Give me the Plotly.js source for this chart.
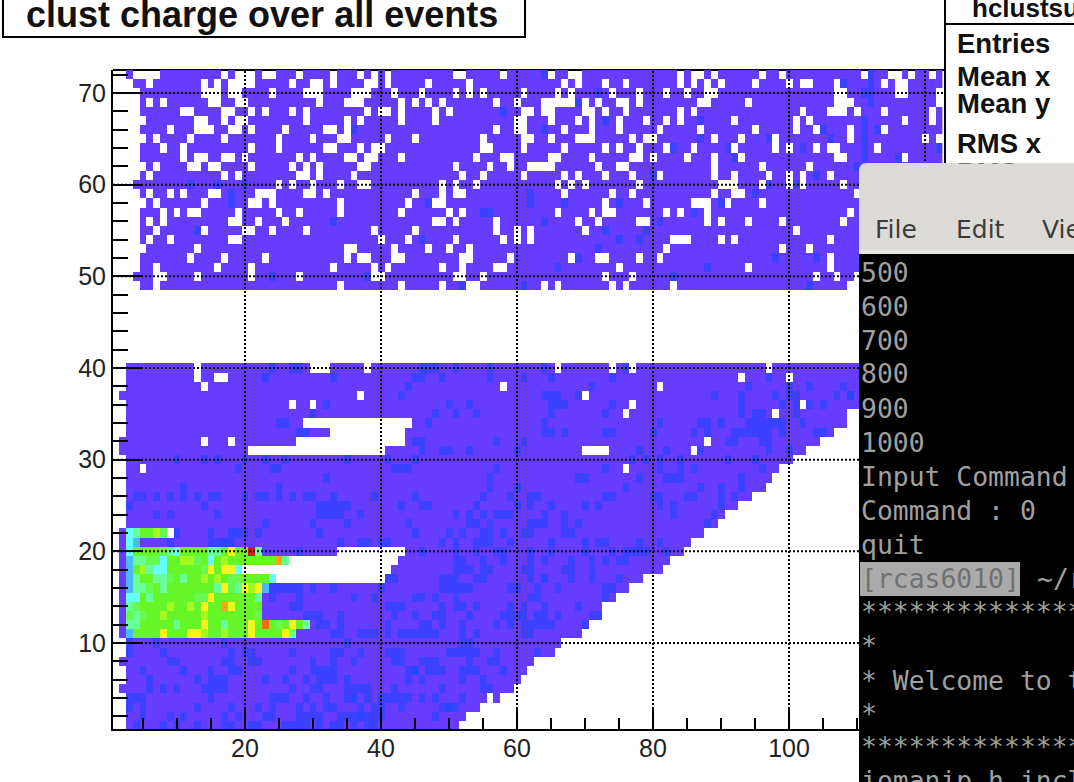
<!DOCTYPE html>
<html><head><meta charset="utf-8">
<script src="https://cdn.plot.ly/plotly-3.0.1.min.js"></script>
<style>html,body{margin:0;padding:0;background:#fff;overflow:hidden}</style>
</head><body><div id="chart" style="width:1074px;height:782px"></div>
<script>
// ---------- values ----------
const titleText = "clust charge over all events";
const xTickValues = [20,40,60,80,100];
const yTickStep = 10;
// [y, first occupied x bin, last occupied x bin]
const rowSpans = [
[72,3,122],[71,4,122],[70,5,122],[69,5,122],[68,5,122],[67,6,122],[66,5,122],[65,6,122],
[64,5,122],[63,5,122],[62,6,122],[61,5,122],[60,4,122],[59,5,122],[58,6,122],[57,5,122],
[56,5,122],[55,5,122],[54,5,122],[53,6,122],[52,5,122],[51,5,122],[50,4,109],[49,5,108],
[40,3,122],[39,3,122],[38,3,122],[37,2,122],[36,3,110],[35,3,108],[34,3,108],[33,3,106],
[32,2,104],[31,2,102],[30,3,100],[29,3,98],[28,3,97],[27,3,96],[26,3,94],[25,3,92],
[24,3,90],[23,3,89],[22,2,87],[21,2,85],[20,2,84],[19,2,82],[18,2,81],[17,2,78],
[16,2,76],[15,2,74],[14,2,72],[13,2,72],[12,2,70],[11,2,69],[10,3,66],[9,3,65],
[8,2,62],[7,3,61],[6,3,60],[5,2,59],[4,3,57],[3,3,54],[2,3,52],[1,3,51]];
// [y, ...x bins with no entries] ; a pair is an inclusive run of bins
const emptyBins = [
[72,[4,7],17,19,20,21,[23,24],28,33,37,39,41,51,52,58,65,68,69,84,86,87,89,96,99,111,115,116,118,121],
[71,6,14,16,[18,21],27,30,31,33,38,39,41,47,53,67,69,73,76,84,86,88,90,95,100,102,103,107,114,116,117],
[70,[14,16],18,19,24,[29,31],[36,38],42,46,51,53,55,61,66,68,74,78,82,85,88,89,107,108,116,117,122],
[69,6,8,15,16,19,20,31,[35,37],43,45,47,49,57,60,64,[65,68],70,72,75,76,78,87,88,94,[107,109],122],
[68,11,12,17,18,21,23,27,29,38,40,41,43,48,50,61,62,64,65,70,71,73,76,84,86,102,[106,108],110,114,121],
[67,13,14,17,19,20,29,35,37,43,48,60,61,65,69,71,75,79,82,84,92,101,103,117,121],
[66,9,[13,15],18,19,21,26,32,33,35,57,60,61,67,71,75,81,87,95,101,104,109,114],
[65,7,12,17,25,30,34,35,41,45,55,61,62,65,[69,71],77,79,80,89,93,98,109,120,122],
[64,8,11,21,25,32,33,37,39,40,55,56,61,67,73,75,78,82,86,92,98,100,104,106,107,113],
[63,11,13,14,17,18,20,28,30,35,36,38,39,43,54,58,59,65,66,71,77,78,80,85,89,93,107,108,117],
[62,7,12,13,15,16,21,27,29,31,37,38,51,56,59,[62,65],72,75,76,89,96,103],
[61,6,17,19,28,29,31,36,52,55,61,67,69,73,77,81,89,92,97,100,102,106],
[60,25,27,30,34,37,38,49,51,54,66,68,70,78,[90,92],96,100,102,108],
[59,6,9,11,15,16,[22,24],29,30,32,45,49,51,52,67,74,77,89,92,93,110],
[58,7,14,21,22,24,34,44,48,49,73,79,[86,88],91,96],
[57,8,10,12,13,19,25,28,34,43,50,52,66,71,73,74,82,84,88,109],
[56,6,8,18,19,22,26,48,49,51,57,69,72,78,79,88,90,94,99,108],
[55,7,14,20,21,24,29,39,45,57,60,62,70,101],
[54,6,9,18,19,40,44,51,58,60,62,[83,85],90,92,106],
[53,13,35,36,42,47,50,53,82,99,103],
[52,12,17,23,35,37,38,42,43,52,53,59,68,72,73,78,81,106],
[51,7,16,21,33,39,41,49,52,57,58,75,94,106],
[50,7,8,13,21,28,39,40,51,52,55,73,77,104,107],
[49,7,34,43,49,53,54,64,66,74,76,83],
[40,13,[30,32],38,66,74,77,97],[39,13,16,17,93,100],[38,14,58,81],[37,37,70],
[36,27,30,77,102],[35,76,98],[34,[29,44]],[33,[33,43]],[32,14,18,[28,43],88],
[31,[21,40],[70,73],86],[29,5,76],[20,[34,43]],[19,[27,42]],[18,[20,41]],[17,[25,40]],[4,56]];
// [y, ...x bins drawn one palette step above the base level]
const blueBins = [
[72,64,112],[71,108,112],[70,72,111,112],[69,69,112],[68,58],[67,73,87,111],[66,36,64,105,111,113],
[65,87,97,106,111],[64,83,91,102,111,122],[63,92,111,116],[62,110],[61,80,104],[60,12,16,20,97,101],
[59,18,62,95],[58,18,47,62,67,75,90],[57,55,56,86],[56,33,64,81],[55,13,73,79],[54,46,75,78],
[53,72],[52,69,98,104],[51,66,88],[50,24,38,83],[49,52,61,103],
[40,24,27,28,[46,48],51,56,64,76],[39,23,33,45,46,49,56,61,65,74,97],[38,44,71,94,100,103,108],
[37,43,64,65,66,69,89,93,98,100,101,107,109],[36,32,50,53,65,66,67,74,93,99,101,103,105],
[35,30,48,51,54,65,73,93,95,96,101],[34,25,26,47,64,81,87,88,90,[94,99],102],
[33,28,29,64,65,67,73,74,80,86,88,[92,97],99,104,105],[32,45,46,57,61,91,92,96,97],
[31,46,49,50,53,60,78,82,87,97,100],[30,10,14,16,20,23,26,35,41,45,77,79,81,84,91,95],
[29,19,24,25,42,43,44,57,73,81,84,86,96],[28,32,56,69,70,78,82,83,84,93],[27,11,25,56,60,76,87,90,93],
[26,4,5,7,9,11,13,15,16,20,22,23,25,27,29,30,33,39,45,55,59,62,63,73,74,80,81,85,86,90,92],
[25,3,14,[31,35],43,46,47,54,60,62,65,70,72,81,83,90],[24,7,9,16,[31,34],37,51,53,55,[57,59],64,67,83,89],
[23,23,30,35,44,53,54,56,[62,64],67,69,88],[22,10,15,18,19,20,22,31,45,50,52,55,56,58,61,62,67,68],
[21,9,15,16,17,18,34,37,38,40,41,49,51,[54,56],59,65,70,72,73,78,81],
[20,28,46,51,54,57,58,62,65,70,74,76,77,78,79,82],[19,51,52,55,58,62,64,68,71,73,75,76],
[18,51,52,53,55,56,61,62,67,68,71],[17,41,42,49,50,51,54,55,62,64,68,71,75],
[16,[24,28],30,33,40,[49,53],59,60,63,66,73,74],[15,24,28,36,39,45,46,48,51,62,63,73],
[14,27,28,41,42,43,49,51,52,54,59,61,64,69],[13,29,30,31,34,42,45,48,49,53,[58,61],63,64,66,71,72],
[12,31,32,34,41,46,47,49,52,57,59,[61,65],70],[11,33,34,[37,39],41,[43,48],52,54,61,62],
[10,3,7,17,35,52,53],[9,3,8,18,20,21,27,33,34,37,[41,43],[50,54],57,63],
[8,9,10,17,18,21,22,30,33,36,42,43,[46,48],53,56,57],[7,5,11,15,18,19,27,[30,33],44,45,47,48,49,52,53,54,58],
[6,6,13,[15,17],23,26,29,[31,33],35,44,46,52,55],[5,6,8,10,[14,17],27,30,31,[35,38],42,49,55,56],
[4,3,4,5,15,[24,26],29,32,35,36,38,[40,44],46,48,52],[3,3,5,13,18,22,24,28,30,32,33,37,39,40,43,[49,51]],
[2,5,9,11,17,19,23,24,[28,31],[34,40],48],[1,4,8,10,13,17,18,21,22,[26,29],31,33,34,36,38,39]];
const deepBlueBins = [[21,17],[7,45],[17,64],[37,109],[4,36],[2,37],[3,50]];
// palette levels of the bright cluster, listed from x bin 3 upward (0 = no entries)
const hotRows = {
22:[5,6,8,8,9,7,0],
21:[5,4],
20:[5,8,8,8,8,7,6,5,8,8,8,8,6,6,8,10,8,8,13,6],
19:[4,6,6,7,7,5,8,8,9,9,7,8,5,8,9,8,8,8,8,8,8,8,11,6],
18:[4,8,9,6,5,5,8,8,8,8,8,7,10,8,10,10,5],
17:[4,6,8,8,6,6,7,8,6,8,8,9,8,9,8,7,7,8,8,8,8,5],
16:[4,6,6,7,8,6,8,8,8,8,8,8,8,6,10,7,6,10,9,10,4],
15:[5,5,8,6,8,8,8,8,8,8,7,7,10,8,8,8,8,8,8,6],
14:[6,7,8,8,8,8,9,8,8,9,8,10,8,8,11,10,8,8,8,8],
13:[7,6,7,8,8,9,8,8,8,8,8,9,8,8,8,8,8,8,8,7],
12:[6,6,8,8,8,8,8,6,8,8,8,10,8,8,6,8,8,8,10,8,12,8,7,8,10,8,6],
11:[4,8,8,8,8,10,8,8,8,10,10,9,8,8,9,8,8,8,10,8,8,8,8,10,6]};
const paletteColors = ["#663dff","#3c40ff","#2a45ff","#4db8ff","#66ffff","#66ff99","#66fa50",
                       "#66f526","#a2fa20","#f8f41e","#fba514","#f07010","#e81010"];
const statLabels = ["Entries","Mean x","Mean y","RMS x","RMS y"];
const terminalLines = ["500","600","700","800","900","1000","Input Command : 0"];
// ---------- build the histogram grid ----------
const NX = 122, NY = 72;
const xs = Array.from({length:NX},(_,i)=>i+1), ys = Array.from({length:NY},(_,i)=>i+1);
const z = ys.map(()=>xs.map(()=>null));
const setBin=(y,x,v)=>{ if(x>=1&&x<=NX) z[y-1][x-1]=v; };
rowSpans.forEach(([y,a,b])=>{ for(let x=a;x<=b;x++) setBin(y,x,1); });
const applyList=(list,v)=>list.forEach(([y,...bins])=>bins.forEach(e=>{
  if(Array.isArray(e)){ for(let x=e[0];x<=e[1];x++) setBin(y,x,v);} else setBin(y,e,v);
}));
applyList(emptyBins,null);
applyList(blueBins,2);
deepBlueBins.forEach(([y,x])=>setBin(y,x,3));
Object.keys(hotRows).forEach(y=>hotRows[y].forEach((v,i)=>setBin(+y,i+3,v===0?null:v)));
const n = paletteColors.length, colorscale=[];
paletteColors.forEach((c,i)=>{ colorscale.push([i/n,c]); colorscale.push([(i+1)/n,c]); });
// ---------- page geometry ----------
const L=113,R=945,T=70,B=729,W=1074,H=782;
const px=x=>(x-L)/(R-L), py=y=>1-(y-T)/(B-T);
const xRange=[20-(245-L)/6.8, 20+(R-245)/6.8];
const yRange=[70-(B-93)/9.167, 70+(93-T)/9.167];
const box=(x0,y0,x1,y1,fill,line,layer)=>({type:'rect',xref:'paper',yref:'paper',x0:px(x0),x1:px(x1),y0:py(y0),y1:py(y1),
  fillcolor:fill||'rgba(0,0,0,0)',line:line?{color:line,width:2}:{width:0},layer:layer||'above'});
const seg=(x0,y0,x1,y1,layer)=>({type:'line',xref:'paper',yref:'paper',x0:px(x0),x1:px(x1),y0:py(y0),y1:py(y1),
  line:{color:'#000',width:2},layer:layer||'above'});
const grid=[];
xTickValues.concat([120]).forEach(v=>grid.push({type:'line',xref:'x',yref:'paper',x0:v,x1:v,y0:0,y1:1,line:{color:'#000',width:2,dash:'2px,2px'},layer:'above'}));
for(let v=10;v<=70;v+=yTickStep) grid.push({type:'line',xref:'paper',yref:'y',x0:0,x1:1,y0:v,y1:v,line:{color:'#000',width:2,dash:'2px,2px'},layer:'above'});
const winPath=`M ${px(859)} ${py(254)} L ${px(859)} ${py(171)} Q ${px(859)} ${py(163)} ${px(867)} ${py(163)} L ${px(1074)} ${py(163)} L ${px(1074)} ${py(254)} Z`;
const shapes=[
  seg(L,T,R,T,'below'),
  ...grid,
  seg(R,0,R,163),
  seg(R,24,W,24),
  box(3,-4,525,37,'#fff','#000'),
  {type:'path',xref:'paper',yref:'paper',path:winPath,fillcolor:'#dcdbd7',line:{width:0},layer:'above'},
  box(859,250,W,254,'#e8e8e4'),
  box(859,254,W,H,'#000'),
  box(860,562,1020,596,'#aaaaaa')
];
const SANS="Liberation Sans, Arial, sans-serif", MONO="DejaVu Sans Mono, monospace";
const label=(text,x,y,size,color,family,bold)=>({xref:'paper',yref:'paper',x:px(x),y:py(y),xanchor:'left',yanchor:'middle',
  showarrow:false,borderpad:0,borderwidth:0,align:'left',text:bold?`<b>${text}</b>`:text,font:{size:size,color:color,family:family}});
const TERM='#a0a0a0';
const annotations=[
  label(titleText,26,14,36,'#111',SANS,true),
  label("hclustsum",972,8,26,'#111',SANS,true),
  label(statLabels[0],957,43,27.5,'#111',SANS,true),
  label(statLabels[1],957,76,27.5,'#111',SANS,true),
  label(statLabels[2],957,104,27.5,'#111',SANS,true),
  label(statLabels[3],957,143,27.5,'#111',SANS,true),
  label(statLabels[4],957,172,27.5,'#111',SANS,true),
  {xref:'paper',yref:'paper',x:px(870),y:py(163),xanchor:'left',yanchor:'top',showarrow:false,text:' ',width:204,height:28,bgcolor:'#dcdbd7',borderpad:0},
  label("File",875,230,25,'#3c3c3c',"DejaVu Sans, sans-serif"),
  label("Edit",956,230,25,'#3c3c3c',"DejaVu Sans, sans-serif"),
  label("View",1042,230,25,'#3c3c3c',"DejaVu Sans, sans-serif"),
  label(terminalLines[0],861,272,26.4,TERM,MONO),
  label(terminalLines[1],861,306,26.4,TERM,MONO),
  label(terminalLines[2],861,340,26.4,TERM,MONO),
  label(terminalLines[3],861,374,26.4,TERM,MONO),
  label(terminalLines[4],861,408,26.4,TERM,MONO),
  label(terminalLines[5],861,442,26.4,TERM,MONO),
  label(terminalLines[6],861,476,26.4,TERM,MONO),
  label("Command : 0",861,510,26.4,TERM,MONO),
  label("quit",861,544,26.4,TERM,MONO),
  label("[rcas6010]",861,578,26.4,'#707070',MONO),
  label("~/r",1037,578,26.4,TERM,MONO),
  label("***************",861,611,26.4,TERM,MONO),
  label("*",861,645,26.4,TERM,MONO),
  label("* Welcome to the",861,680,26.4,TERM,MONO),
  label("*",861,713,26.4,TERM,MONO),
  label("***************",861,746,26.4,TERM,MONO),
  label("iomanip.h incl",861,780,26.4,TERM,MONO)
];
const axisFont={family:SANS,size:25,color:'#222'};
const layout={
  width:W,height:H,margin:{l:L,r:W-R,t:T,b:H-B,pad:0},
  paper_bgcolor:'#fff',plot_bgcolor:'rgba(0,0,0,0)',showlegend:false,
  xaxis:{range:xRange,tickmode:'array',tickvals:xTickValues,ticktext:xTickValues.map(String),ticks:'inside',ticklen:22,tickwidth:2,tickcolor:'#000',ticklabelstandoff:-4,
    showgrid:false,zeroline:false,showline:true,linecolor:'#000',linewidth:2,mirror:false,layer:'above traces',
    tickfont:axisFont,minor:{dtick:5,tick0:0,ticks:'inside',ticklen:11,tickwidth:2,tickcolor:'#000',showgrid:false}},
  yaxis:{range:yRange,tick0:0,dtick:yTickStep,ticks:'inside',ticklen:30,tickwidth:2,tickcolor:'#000',ticklabelstandoff:0,
    showgrid:false,zeroline:false,showline:true,linecolor:'#000',linewidth:2,mirror:false,layer:'above traces',
    tickfont:axisFont,minor:{dtick:2,tick0:0,ticks:'inside',ticklen:15,tickwidth:2,tickcolor:'#000',showgrid:false}},
  shapes:shapes,annotations:annotations
};
Plotly.newPlot('chart',[{type:'heatmap',x:xs,y:ys,z:z,zmin:0.5,zmax:n+0.5,colorscale:colorscale,showscale:false,zsmooth:false,hoverinfo:'skip',hoverongaps:false}],layout,{displayModeBar:false,staticPlot:true});
</script></body></html>
